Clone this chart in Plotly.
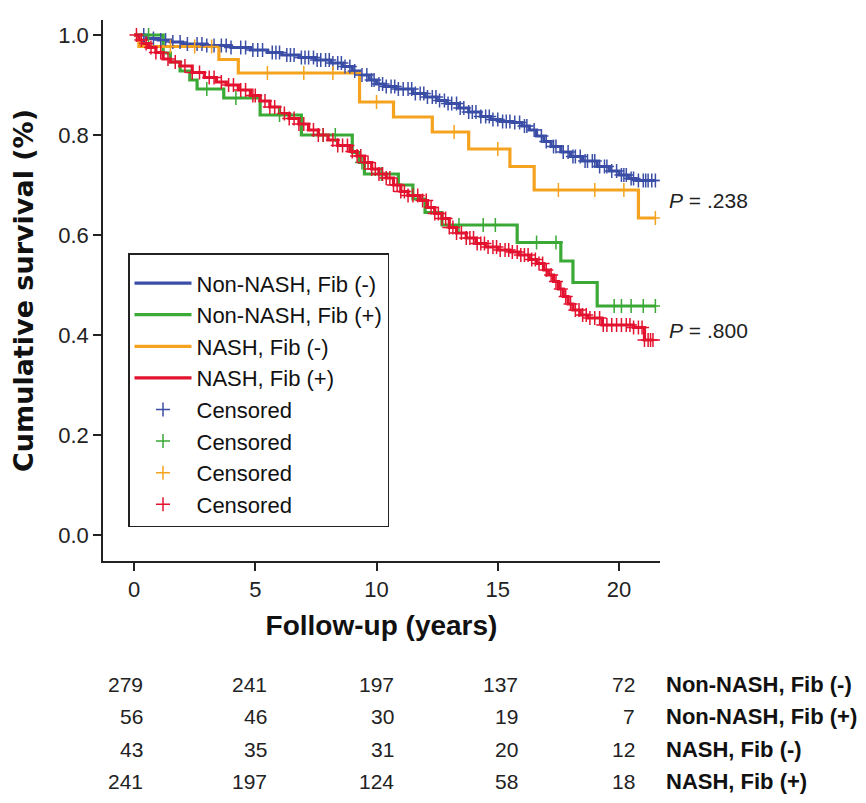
import numpy as np
import plotly.graph_objects as go

# ---------------- data ----------------
groups = ["Non-NASH, Fib (-)", "Non-NASH, Fib (+)", "NASH, Fib (-)", "NASH, Fib (+)"]
colors = ["#3b4ea6", "#3aa935", "#f5a31f", "#e3132f"]

# Kaplan-Meier step knots: time (years) and survival after the step
blue_t = [0, 0.5, 1.0, 1.5, 2.0, 3.0, 4.0, 4.8, 5.5, 6.1, 6.8, 7.5, 8.1, 8.6, 9.0, 9.3,
          9.7, 10.0, 10.3, 10.8, 11.5, 12.0, 12.5, 12.9, 13.4, 13.8, 14.3, 14.7, 15.1,
          15.6, 16.0, 16.3, 16.6, 16.9, 17.2, 17.6, 18.0, 18.5, 19.1, 19.6, 20.0, 20.4, 20.7]
blue_s = [1.0, 0.993, 0.99, 0.986, 0.982, 0.979, 0.975, 0.97, 0.965, 0.96, 0.955, 0.95,
          0.944, 0.937, 0.928, 0.92, 0.91, 0.902, 0.897, 0.892, 0.883, 0.876, 0.869, 0.863,
          0.854, 0.846, 0.837, 0.831, 0.827, 0.825, 0.818, 0.81, 0.798, 0.787, 0.777, 0.766,
          0.757, 0.748, 0.737, 0.728, 0.72, 0.713, 0.709]
blue_end = 21.5

green_t = [0, 1.2, 1.5, 1.9, 2.3, 2.6, 3.7, 5.2, 6.9, 9.0, 9.3, 9.5, 10.9, 11.5, 12.0,
           12.7, 15.8, 17.6, 18.1, 19.1]
green_s = [1.0, 0.964, 0.946, 0.928, 0.91, 0.892, 0.874, 0.84, 0.80, 0.765, 0.745, 0.722,
           0.70, 0.672, 0.645, 0.62, 0.585, 0.548, 0.505, 0.458]
green_end = 21.5

orange_t = [0, 0.2, 3.5, 4.3, 9.3, 10.7, 12.3, 13.8, 15.5, 16.5, 20.8]
orange_s = [1.0, 0.977, 0.951, 0.924, 0.866, 0.836, 0.806, 0.772, 0.737, 0.69, 0.634]
orange_end = 21.5

red_t = [0, 0.2, 0.4, 0.6, 0.9, 1.2, 1.5, 1.9, 2.4, 2.9, 3.4, 3.8, 4.3, 4.8, 5.2, 5.6,
         6.0, 6.4, 6.8, 7.2, 7.6, 8.0, 8.4, 8.9, 9.2, 9.5, 9.8, 10.1, 10.4, 10.7, 11.0,
         11.3, 11.8, 12.1, 12.4, 12.7, 13.0, 13.3, 13.7, 14.1, 14.5, 15.0, 15.5, 15.9,
         16.3, 16.6, 16.9, 17.1, 17.3, 17.5, 17.7, 17.9, 18.1, 18.4, 18.7, 19.3, 20.6, 21.05]
red_s = [1.0, 0.99, 0.983, 0.975, 0.965, 0.952, 0.946, 0.938, 0.925, 0.915, 0.906, 0.90,
         0.89, 0.879, 0.868, 0.856, 0.843, 0.833, 0.822, 0.81, 0.80, 0.79, 0.779, 0.767,
         0.758, 0.745, 0.732, 0.722, 0.714, 0.70, 0.687, 0.679, 0.669, 0.655, 0.643, 0.633,
         0.615, 0.604, 0.594, 0.583, 0.576, 0.57, 0.566, 0.56, 0.551, 0.543, 0.53, 0.52,
         0.507, 0.492, 0.477, 0.462, 0.45, 0.44, 0.434, 0.42, 0.415, 0.39]
red_end = 21.4

# censoring times
blue_c = [0.4, 0.8, 1.1, 1.3, 1.6, 1.9, 2.2, 2.6, 2.8, 3.0, 3.3, 3.6, 3.8, 4.0, 4.4, 4.6,
          4.9, 5.1, 5.3, 5.7, 5.85, 6.0, 6.3, 6.45, 6.6, 6.9, 7.05, 7.2, 7.4, 7.55, 7.7,
          7.9, 8.05, 8.2, 8.4, 8.55, 8.7, 8.9, 9.1, 9.4, 9.6, 9.8, 9.9, 10.1, 10.25, 10.4,
          10.6, 10.75, 10.9, 11.1, 11.3, 11.45, 11.6, 11.8, 11.95, 12.1, 12.3, 12.45,
          12.6, 12.8, 12.95, 13.1, 13.3, 13.45, 13.6, 13.8, 13.95, 14.1, 14.3, 14.5, 14.65,
          14.8, 15.0, 15.2, 15.35, 15.5, 15.7, 15.9, 16.1, 16.2, 16.5, 16.8, 17.0, 17.3,
          17.4, 17.7, 17.9, 18.1, 18.2, 18.4, 18.6, 18.7, 18.9, 19.0, 19.2, 19.4, 19.5,
          19.7, 19.9, 20.1, 20.2, 20.3, 20.5, 20.6, 20.8, 21.0, 21.1, 21.2, 21.35, 21.5]
green_c = [0.6, 3.0, 4.2, 6.0, 7.8, 8.3, 9.4, 10.2, 13.4, 14.4, 14.9, 16.6, 17.4, 19.8,
           20.1, 20.5, 21.0, 21.5]
orange_c = [1.5, 2.5, 3.2, 5.5, 7.0, 8.2, 10.0, 13.2, 15.0, 17.5, 19.0, 20.2, 21.5]
red_c = [0.1, 0.3, 0.5, 0.7, 0.9, 1.1, 1.4, 1.7, 2.1, 2.4, 2.7, 3.1, 3.3, 3.6, 3.9, 4.1,
         4.4, 4.6, 4.9, 5.0, 5.4, 5.6, 5.8, 6.2, 6.4, 6.6, 6.8, 7.0, 7.4, 7.6, 7.8, 8.2,
         8.4, 8.6, 8.8, 9.0, 9.2, 9.35, 9.5, 9.65, 9.8, 9.95, 10.1, 10.25, 10.4, 10.55,
         10.7, 10.85, 11.0, 11.15, 11.3, 11.5, 11.7, 11.9, 12.05, 12.25, 12.4, 12.55,
         12.7, 12.85, 13.0, 13.15, 13.3, 13.5, 13.7, 13.85, 14.0, 14.15, 14.3, 14.45,
         14.6, 14.8, 14.95, 15.1, 15.3, 15.45, 15.6, 15.8, 15.95, 16.1, 16.25, 16.4,
         16.55, 16.7, 16.85, 17.0, 17.2, 17.4, 17.6, 17.8, 18.0, 18.2, 18.35, 18.5,
         18.65, 18.8, 19.0, 19.2, 19.35, 19.5, 19.7, 19.9, 20.1, 20.3, 20.45, 20.6,
         20.8, 20.95, 21.05, 21.2, 21.3, 21.4]

# numbers at risk
risk_times = [0, 5, 10, 15, 20]
risk_blue = [279, 241, 197, 137, 72]
risk_green = [56, 46, 30, 19, 7]
risk_orange = [43, 35, 31, 20, 12]
risk_red = [241, 197, 124, 58, 18]

p_values = [".238", ".800"]
p_levels = [0.67, 0.41]

xticks = [0, 5, 10, 15, 20]
yticks = [0.0, 0.2, 0.4, 0.6, 0.8, 1.0]
yticklabels = ["0.0", "0.2", "0.4", "0.6", "0.8", "1.0"]

# ---------------- figure ----------------
FONT = "Liberation Sans, Arial, Helvetica, sans-serif"
OFF = 8                      # page body margin of the html page
W, H = 866 - OFF, 803 - OFF
PL, PR, PT, PB = 103, 660, 20, 561       # plot box in page pixels
ML, MT = PL - OFF, PT - OFF
MR, MB = W - (PR - OFF), H - (PB - OFF)
PW, PH = PR - PL, PB - PT


def px_x(px):
    return (px - PL) / PW


def px_y(py):
    return (PB - py) / PH


series = [
    (blue_t, blue_s, blue_end, blue_c),
    (green_t, green_s, green_end, green_c),
    (orange_t, orange_s, orange_end, orange_c),
    (red_t, red_s, red_end, red_c),
]

fig = go.Figure()
for (t, s, te, c), name, col in zip(series, groups, colors):
    fig.add_trace(go.Scatter(
        x=list(t) + [te], y=list(s) + [s[-1]], mode="lines", name=name,
        line=dict(color=col, width=3.2, shape="hv"), legendgroup=name + "_c",
        hoverinfo="skip"))

for (t, s, te, c), name, col in zip(series, groups, colors):
    idx = np.searchsorted(np.array(t), np.array(c), side="right") - 1
    cy = np.array(s)[idx]
    fig.add_trace(go.Scatter(
        x=c, y=cy, mode="markers", name="Censored", legendgroup=name + "_m",
        marker=dict(symbol="cross-thin", size=10, color=col,
                    line=dict(color=col, width=1.5)),
        hoverinfo="skip"))

annotations = []
# p-values
for pv, lev in zip(p_values, p_levels):
    annotations.append(dict(
        xref="paper", yref="y", x=px_x(667), y=lev, xanchor="left", yanchor="middle",
        text="<i>P</i> = " + pv, showarrow=False,
        font=dict(family=FONT, size=21, color="#222")))

# risk table
row_y = [684, 716, 749, 781]
col_right = [145, 269, 396, 520, 637]
for vals, ry, name in zip([risk_blue, risk_green, risk_orange, risk_red], row_y, groups):
    for v, cx in zip(vals, col_right):
        annotations.append(dict(
            xref="paper", yref="paper", x=px_x(cx), y=px_y(ry), xanchor="right",
            yanchor="middle", text=str(v), showarrow=False,
            font=dict(family=FONT, size=21, color="#222")))
    annotations.append(dict(
        xref="paper", yref="paper", x=px_x(664), y=px_y(ry), xanchor="left",
        yanchor="middle", text="<b>" + name + "</b>", showarrow=False,
        font=dict(family=FONT, size=22, color="#111")))

fig.update_layout(
    width=W, height=H,
    margin=dict(l=ML, r=MR, t=MT, b=MB, autoexpand=False),
    paper_bgcolor="white", plot_bgcolor="white",
    font=dict(family=FONT, color="#222"),
    showlegend=True,
    legend=dict(
        x=px_x(128), y=px_y(253), xanchor="left", yanchor="top",
        bordercolor="#222", borderwidth=1.5, bgcolor="white",
        font=dict(family=FONT, size=22, color="#111"),
        title=dict(text=" ", font=dict(size=6)),
        traceorder="grouped", tracegroupgap=0, itemwidth=57),
    xaxis=dict(
        range=[-1.28, 21.69], tickvals=xticks, showgrid=False, zeroline=False,
        showline=True, linecolor="#222", linewidth=1.5, ticks="outside",
        ticklen=8, tickwidth=1.5, tickcolor="#222", automargin=False,
        tickfont=dict(family=FONT, size=22, color="#222"),
        title=dict(text="<b>Follow-up (years)</b>", standoff=14,
                   font=dict(family=FONT, size=28, color="#111"))),
    yaxis=dict(
        range=[-0.052, 1.03], tickvals=yticks, ticktext=yticklabels, showgrid=False,
        zeroline=False, showline=True, linecolor="#222", linewidth=1.5,
        ticks="outside", ticklen=8, tickwidth=1.5, tickcolor="#222", automargin=False,
        tickfont=dict(family=FONT, size=22, color="#222"),
        title=dict(text="<b>Cumulative survival (%)</b>", standoff=22,
                   font=dict(family="DejaVu Sans, " + FONT, size=27, color="#111"))),
    annotations=annotations,
)

fig.write_html("out.html")
